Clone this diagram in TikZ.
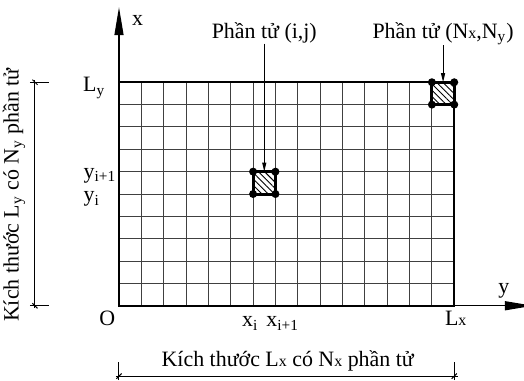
\documentclass[tikz,border=0pt]{standalone}
\usepackage{fontspec}
\setmainfont{Liberation Serif}
\usetikzlibrary{arrows.meta, patterns.meta, positioning}

\newcommand{\subx}{{\fontsize{8}{8}\selectfont x}}

\tikzset{
  gridline/.style={black!75, line width=0.5bp},
  frame/.style={line width=1.1bp},
  elem/.style={line width=1.5bp, pattern={Lines[angle=-45,distance=2.2bp,line width=0.45bp]}},
  axis/.style={line width=0.6bp, -{Triangle[length=14bp,width=4.5bp]}},
  leader/.style={line width=0.5bp, -{Triangle[length=4.5bp,width=2bp]}},
  dimline/.style={line width=0.5bp},
  lbl/.style={font=\fontsize{11}{13}\selectfont, inner sep=0pt},
}

\begin{document}
\begin{tikzpicture}[x=11.175bp, y=11.175bp]
    \useasboundingbox (-5.324,-3.324) rectangle (18.12,13.68);

    % Mesh
    \foreach \k in {1,...,14}
        \draw[gridline] (\k,0) -- (\k,10);
    \foreach \k in {1,...,9}
        \draw[gridline] (0,\k) -- (15,\k);
    \draw[frame] (0,0) rectangle (15,10);

    % Axes
    \coordinate (O) at (0,0);
    \coordinate (xend) at (0,13.36);
    \coordinate (yend) at (18.52,0);
    \draw[axis] (O) -- (xend);
    \draw[axis] (O) -- (yend);

    % Elements (i,j) and (Nx,Ny)
    \foreach \i/\j/\n in {6/5/eij, 14/9/eN} {
        \draw[elem] (\i,\j) rectangle ++(1,1);
        \foreach \dx/\dy in {0/0, 1/0, 0/1, 1/1}
            \fill (\i+\dx,\j+\dy) circle (2bp);
        \coordinate (\n) at (\i+0.5,\j+1);
    }

    % Element labels
    \node[lbl, anchor=base] (lblij) at (6.5,11.96) {Phần tử (i,j)};
    \node[lbl, anchor=base] (lblN) at (14.5,11.96) {Phần tử (N\subx,N\textsubscript{y})};
    \draw[leader] (lblij.south) -- (eij);
    \draw[leader] (lblN.south -| eN) -- (eN);

    % Axis labels
    \node[lbl, anchor=base west] (xlbl) at (0.57,12.56) {x};
    \node[lbl, anchor=base west] (ylbl) at (16.96,0.57) {y};
    \node[lbl, anchor=base west] (olbl) at (-0.895,-0.87) {O};
    \node[lbl, anchor=base west] (xi) at (5.49,-0.94) {x\textsubscript{i}};
    \node[lbl, anchor=base west] (xii) at (6.58,-0.94) {x\textsubscript{i+1}};
    \node[lbl, anchor=base west] (lx) at (14.57,-0.87) {L\subx};
    \node[lbl, anchor=base west] (ly) at (-1.62,9.57) {L\textsubscript{y}};
    \node[lbl, anchor=base west] (yii) at (-1.6,5.71) {y\textsubscript{i+1}};
    \node[lbl, anchor=base west] (yi) at (-1.6,4.65) {y\textsubscript{i}};

    % Dimension Ly
    \coordinate (dyb) at (-3.76,0);
    \coordinate (dyt) at (-3.76,10);
    \draw[dimline] ([yshift=-1bp]dyb) -- ([yshift=1bp]dyt);
    \foreach \c in {dyb, dyt} {
        \draw[dimline] ([xshift=-2.5bp]\c) -- ([xshift=7bp]\c);
        \draw[dimline] ([shift={(-1.3bp,1.3bp)}]\c) -- ([shift={(1.3bp,-1.3bp)}]\c);
    }
    \node[lbl, rotate=90] (dimy) at (-4.70,4.95) {Kích thước L\textsubscript{y} có N\textsubscript{y} phần tử};

    % Dimension Lx
    \coordinate (dxl) at (0,-3.15);
    \coordinate (dxr) at (15,-3.15);
    \draw[dimline] ([xshift=-1.5bp]dxl) -- ([xshift=2bp]dxr);
    \foreach \c in {dxl, dxr} {
        \draw[dimline] ([yshift=-2bp]\c) -- ([yshift=7bp]\c);
        \draw[dimline] ([shift={(-1.3bp,-1.3bp)}]\c) -- ([shift={(1.3bp,1.3bp)}]\c);
    }
    \node[lbl, anchor=base] (dimx) at (7.55,-2.70) {Kích thước L\subx{} có N\subx{} phần tử};

\end{tikzpicture}
\end{document}
